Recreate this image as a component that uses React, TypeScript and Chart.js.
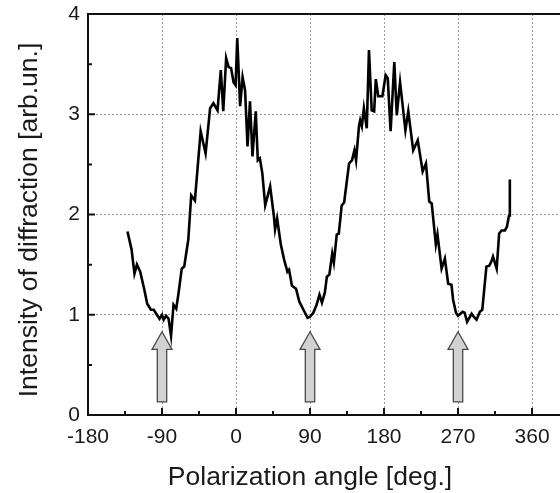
import React, { useEffect, useRef } from 'react';
import { Chart, registerables } from 'chart.js';

Chart.register(...registerables);

// ---- data ----
const angles: number[] = [
  -132, -127, -123.5, -120.5, -116.5, -111.5, -108, -103.5, -100, -97, -93, -90, -88, -85, -82, -79, -76, -72.7, -70,
  -66, -63, -58, -54.5, -50, -43, -37, -31.5, -27.5, -22.5, -18.5, -15.5, -12, -9, -6, -3, -0.5, 1.5, 5, 8, 11, 14,
  17, 20, 24, 26.5, 29, 32, 35.5, 41.5, 46, 47.5, 50, 54.5, 58.5, 62.5, 64.5, 68, 73, 77, 82, 87, 90, 94, 98, 101.5,
  104.5, 108, 110.5, 113.5, 117, 119, 122.5, 125, 128.5, 131.5, 137.5, 141, 144, 146, 149.5, 151, 153, 155.5, 159,
  161.7, 165, 168, 170, 173, 178, 182, 184.5, 188, 192.5, 195.5, 199.5, 206, 209.5, 215.5, 221, 227, 231, 235, 238,
  243, 245, 250, 254, 258, 262, 264, 267.5, 270, 275.5, 278, 281, 286.5, 289, 292.5, 296.5, 299.5, 304.5, 308, 310.5,
  312.5, 317, 320, 323, 327, 329.5, 332, 333,
];
const intensity: number[] = [
  1.83, 1.65, 1.41, 1.5, 1.43, 1.25, 1.11, 1.05, 1.05, 1.01, 0.96, 1.0, 0.95, 0.99, 0.96, 0.79, 1.1, 1.06, 1.21,
  1.46, 1.48, 1.75, 2.19, 2.14, 2.83, 2.61, 3.06, 3.11, 3.04, 3.44, 3.03, 3.56, 3.47, 3.46, 3.32, 3.29, 3.76, 3.08, 3.37, 3.24, 2.68,
  3.13, 2.58, 3.03, 2.54, 2.56, 2.41, 2.09, 2.28, 1.99, 1.85, 1.96, 1.7, 1.55, 1.43, 1.45, 1.29, 1.26, 1.13, 1.05, 0.97, 0.98, 1.02, 1.1, 1.2,
  1.12, 1.22, 1.38, 1.4, 1.61, 1.52, 1.8, 1.81, 2.09, 2.12, 2.51, 2.54, 2.64, 2.54, 2.88, 2.94, 2.88, 3.06, 2.86,
  3.64, 3.04, 3.03, 3.35, 3.18, 3.18, 3.39, 3.36, 2.83, 3.52, 2.99, 3.32, 2.84, 3.03, 2.64, 2.74, 2.43, 2.51, 2.13, 2.11,
  1.7, 1.8, 1.46, 1.56, 1.31, 1.3, 1.15, 1.02, 0.99, 1.03, 1.02, 0.93, 1.01, 0.98, 0.95, 1.03, 1.05, 1.48, 1.49, 1.53,
  1.58, 1.46, 1.81, 1.84, 1.84, 1.88, 1.99, 2.35,
];

const xMin = -180;
const xMax = 394;
const yMin = 0;
const yMax = 4;
const xTickValues: number[] = [-180, -135, -90, -45, 0, 45, 90, 135, 180, 225, 270, 315, 360];
const xLabelStep = 90;
const yTickValues: number[] = [0, 0.5, 1, 1.5, 2, 2.5, 3, 3.5, 4];

const arrowAngles: number[] = [-90, 90, 270];
const arrowTail = 0.13;
const arrowHeadBase = 0.655;
const arrowTip = 0.83;

const xTitle = 'Polarization angle [deg.]';
const yTitle = 'Intensity of diffraction [arb.un.]';

const FONT = '"Liberation Sans", Arial, Helvetica, sans-serif';
const TEXT = '#1a1a1a';

export default function App() {
  const ref = useRef<HTMLCanvasElement | null>(null);

  useEffect(() => {
    const canvas = ref.current;
    if (!canvas) return;

    const framePlugin = {
      id: 'frame',
      beforeDatasetsDraw(chart: any) {
        const { ctx } = chart;
        const xs = chart.scales.x;
        const ys = chart.scales.y;
        ctx.save();
        arrowAngles.forEach((a) => {
          const cx = xs.getPixelForValue(a);
          const yTail = ys.getPixelForValue(arrowTail);
          const yBase = ys.getPixelForValue(arrowHeadBase);
          const yTip = ys.getPixelForValue(arrowTip);
          const sw = 4.7;
          const hw = 10;
          ctx.beginPath();
          ctx.moveTo(cx - sw, yTail);
          ctx.lineTo(cx - sw, yBase);
          ctx.lineTo(cx - hw, yBase);
          ctx.lineTo(cx, yTip);
          ctx.lineTo(cx + hw, yBase);
          ctx.lineTo(cx + sw, yBase);
          ctx.lineTo(cx + sw, yTail);
          ctx.closePath();
          ctx.fillStyle = '#d2d2d2';
          ctx.fill();
          ctx.lineWidth = 1.3;
          ctx.strokeStyle = '#4a4a4a';
          ctx.lineJoin = 'miter';
          ctx.stroke();
        });
        ctx.restore();
      },
      afterDraw(chart: any) {
        const { ctx, chartArea } = chart;
        const xs = chart.scales.x;
        const ys = chart.scales.y;
        const { left, right, top, bottom } = chartArea;
        ctx.save();
        ctx.strokeStyle = '#111';
        ctx.lineWidth = 2;
        ctx.lineCap = 'butt';
        ctx.beginPath();
        ctx.moveTo(left, top);
        ctx.lineTo(right, top);
        ctx.moveTo(left, top - 1);
        ctx.lineTo(left, bottom + 1);
        ctx.moveTo(left - 1, bottom);
        ctx.lineTo(right, bottom);
        ctx.stroke();
        // inward tick marks
        ctx.lineWidth = 2;
        ctx.beginPath();
        xTickValues.forEach((v) => {
          const px = xs.getPixelForValue(v);
          const len = v % xLabelStep === 0 ? 7 : 4;
          ctx.moveTo(px, bottom);
          ctx.lineTo(px, bottom - len);
        });
        yTickValues.forEach((v) => {
          const py = ys.getPixelForValue(v);
          const len = Number.isInteger(v) ? 7 : 4;
          ctx.moveTo(left, py);
          ctx.lineTo(left + len, py);
        });
        ctx.stroke();
        // axis titles
        ctx.fillStyle = TEXT;
        ctx.font = `26.5px ${FONT}`;
        ctx.textAlign = 'center';
        ctx.textBaseline = 'alphabetic';
        ctx.fillText(xTitle, 310, 485);
        ctx.translate(37, 220);
        ctx.rotate(-Math.PI / 2);
        ctx.fillText(yTitle, 0, 0);
        ctx.restore();
      },
    };

    const chart = new Chart(canvas, {
      type: 'line',
      data: {
        datasets: [
          {
            data: angles.map((a, i) => ({ x: a, y: intensity[i] })),
            borderColor: '#000',
            borderWidth: 2.6,
            pointRadius: 0,
            tension: 0,
            fill: false,
          },
        ],
      },
      options: {
        responsive: false,
        animation: false,
        devicePixelRatio: 1,
        layout: { padding: { top: 14, right: 0, left: 0, bottom: 0 } },
        plugins: { legend: { display: false }, tooltip: { enabled: false }, title: { display: false } },
        scales: {
          x: {
            type: 'linear',
            min: xMin,
            max: xMax,
            afterBuildTicks: (s: any) => {
              s.ticks = xTickValues.map((v) => ({ value: v }));
            },
            afterFit: (s: any) => {
              s.height = 78;
              s.paddingLeft = 0;
              s.paddingRight = 0;
            },
            ticks: {
              autoSkip: false,
              maxRotation: 0,
              minRotation: 0,
              padding: 10,
              color: TEXT,
              font: { size: 21, family: FONT },
              callback: (v: any) => (Number(v) % xLabelStep === 0 ? String(v) : ''),
            },
            grid: {
              drawTicks: false,
              lineWidth: 1,
              color: (c: any) =>
                c.tick && c.tick.value % xLabelStep === 0 && c.tick.value !== xMin ? '#9a9a9a' : 'rgba(0,0,0,0)',
            },
            border: { display: false, dash: [2, 2] },
          },
          y: {
            type: 'linear',
            min: yMin,
            max: yMax,
            afterBuildTicks: (s: any) => {
              s.ticks = yTickValues.map((v) => ({ value: v }));
            },
            afterFit: (s: any) => {
              s.width = 88;
              s.paddingTop = 0;
              s.paddingBottom = 0;
            },
            ticks: {
              autoSkip: false,
              padding: 8,
              color: TEXT,
              font: { size: 21, family: FONT },
              callback: (v: any) => (Number.isInteger(Number(v)) ? String(v) : ''),
            },
            grid: {
              drawTicks: false,
              lineWidth: 1,
              color: (c: any) =>
                c.tick && Number.isInteger(c.tick.value) && c.tick.value !== yMin && c.tick.value !== yMax
                  ? '#9a9a9a'
                  : 'rgba(0,0,0,0)',
            },
            border: { display: false, dash: [2, 2] },
          },
        },
      },
      plugins: [framePlugin],
    } as any);

    return () => chart.destroy();
  }, []);

  return (
    <div style={{ position: 'absolute', left: 0, top: 0, width: 560, height: 493, background: '#fff' }}>
      <canvas ref={ref} width={560} height={493} style={{ display: 'block' }} />
    </div>
  );
}
